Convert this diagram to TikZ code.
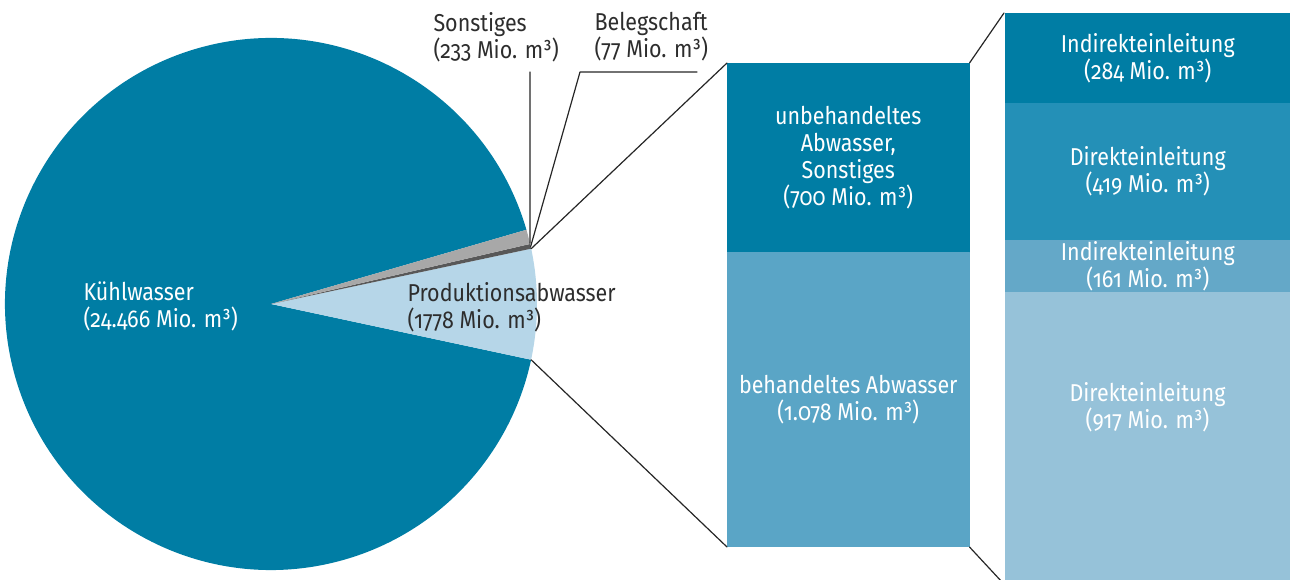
\documentclass[tikz,border=0pt]{standalone}
\usepackage{fontspec}
\setmainfont{Fira Sans}[Numbers=OldStyle, FakeStretch=0.88]
\definecolor{kuehlblue}{RGB}{0,125,164}
\definecolor{prodblue}{RGB}{182,214,232}
\definecolor{sonstgray}{RGB}{168,168,168}
\definecolor{beleggray}{RGB}{88,88,88}
\definecolor{behblue}{RGB}{90,165,198}
\definecolor{dirblue}{RGB}{36,144,183}
\definecolor{indirblue}{RGB}{100,168,200}
\definecolor{dirlight}{RGB}{150,194,217}
\definecolor{labelgray}{RGB}{45,45,45}
\begin{document}
\begin{tikzpicture}[x=1pt, y=1pt, font=\fontsize{24.4}{27}\selectfont, line join=round, line cap=round,
	seg/.style={anchor=north west, inner sep=0pt, text=white, align=center, minimum width=242pt, fill=#1, draw=#1, line width=0.5pt},
	col/.style={anchor=north west, inner sep=0pt, text=white, align=center, minimum width=285pt, fill=#1, draw=#1, line width=0.5pt},
	lead/.style={line width=1.2pt, draw=black!85}]
	\useasboundingbox (0,0) rectangle (1290,580);
	% pie
	\coordinate (P) at (271,276);
	\fill[kuehlblue] (P) -- ([shift={(16.207:266)}]P) arc[start angle=16.207, end angle=347.9, radius=266] -- cycle;
	\fill[prodblue] (P) -- ([shift={(-12.1:266)}]P) arc[start angle=-12.1, end angle=12.004, radius=266] -- cycle;
	\fill[beleggray] (P) -- ([shift={(12.004:266)}]P) arc[start angle=12.004, end angle=13.048, radius=266] -- cycle;
	\fill[sonstgray] (P) -- ([shift={(13.048:266)}]P) arc[start angle=13.048, end angle=16.207, radius=266] -- cycle;
	\coordinate (prodtop) at ([shift={(12.004:266)}]P); \coordinate (prodbot) at ([shift={(-12.1:266)}]P);
	\coordinate (belegpt) at ([shift={(12.5:266)}]P); \coordinate (sonstpt) at ([shift={(13.2:266)}]P);
	\node[anchor=west, align=left, text=white] (kuehl) at (80,274) {Kühlwasser\\(24.466 Mio. m³)};
	\node[anchor=west, align=left, text=labelgray] (prod) at (404,273) {Produktionsabwasser\\(1778 Mio. m³)};
	\node[anchor=west, align=left, text=labelgray] (sonst) at (430,543) {Sonstiges\\(233 Mio. m³)};
	\node[anchor=west, align=left, text=labelgray] (beleg) at (591,543) {Belegschaft\\(77 Mio. m³)};
	\coordinate (sonsttop) at (530,508); \coordinate (belegknee) at (580,508); \coordinate (belegend) at (697,508);
	\draw[lead] (sonstpt) -- (sonsttop);
	\draw[lead] (belegpt) -- (belegknee) -- (belegend);
	% middle bar
	\node[seg=kuehlblue, minimum height=189pt] (unbeh) at (727,517) {unbehandeltes\\Abwasser,\\Sonstiges\\(700 Mio. m³)};
	\node[seg=behblue, minimum height=294pt] (beh) at (unbeh.south west) {behandeltes Abwasser\\(1.078 Mio. m³)};
	% right column
	\node[col=kuehlblue, minimum height=90pt] (indir1) at (1005,567) {Indirekteinleitung\\(284 Mio. m³)};
	\node[col=dirblue, minimum height=136pt] (dir1) at (indir1.south west) {Direkteinleitung\\(419 Mio. m³)};
	\node[col=indirblue, minimum height=52pt] (indir2) at (dir1.south west) {Indirekteinleitung\\(161 Mio. m³)};
	\node[col=dirlight, minimum height=289pt] (dir2) at (indir2.south west) {};
	\node[text=white, align=center] (dir2txt) at (1147.5,173) {Direkteinleitung\\(917 Mio. m³)};
	% connectors
	\draw[lead] (prodtop) -- (unbeh.north west);
	\draw[lead] (prodbot) -- (beh.south west);
	\draw[lead] (unbeh.north east) -- ([xshift=-1pt]indir1.north west);
	\draw[lead] (beh.south east) -- ([xshift=-3pt]dir2.south west);
\end{tikzpicture}
\end{document}
